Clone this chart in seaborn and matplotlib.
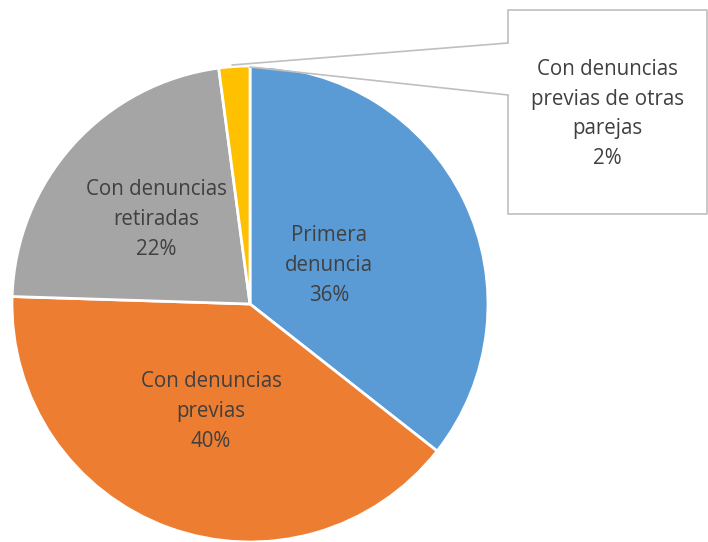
import numpy as np
import matplotlib.pyplot as plt
import seaborn as sns

# data (shares, shown rounded)
labels = ["Primera\ndenuncia", "Con denuncias\nprevias", "Con denuncias\nretiradas",
          "Con denuncias\nprevias de otras\nparejas"]
values = [35.6, 39.9, 22.4, 2.1]
colors = ["#5B9BD5", "#ED7D31", "#A5A5A5", "#FFC000"]

sns.set_theme(style="white")
plt.rcParams['font.family'] = ['Open Sans', 'DejaVu Sans']

W, H = 708, 542
fig = plt.figure(figsize=(W / 100, H / 100), dpi=100)
ax = fig.add_axes([0, 0, 1, 1])

cx, cy, r = 250, H - 304, 238
wedges, _ = ax.pie(values, colors=colors, startangle=90, counterclock=False,
                   center=(cx, cy), radius=r, frame=True,
                   wedgeprops=dict(edgecolor="white", linewidth=2))
ax.set_xlim(0, W)
ax.set_ylim(0, H)
ax.set_aspect("equal")
ax.axis("off")

txt = "#404040"
fs = 14.8
ls = 1.55
# radial distance (fraction of radius) of inside labels
label_r = [0.37, 0.48, 0.53]
for w, lab, v, f in zip(wedges[:3], labels[:3], values[:3], label_r):
    mid = np.deg2rad((w.theta1 + w.theta2) / 2)
    ax.text(cx + f * r * np.cos(mid), cy + f * r * np.sin(mid), f"{lab}\n{v:.0f}%",
            ha="center", va="center", fontsize=fs, color=txt, linespacing=ls)

# callout for the small slice
lc = "#BFBFBF"
bx0, bx1, by0, by1 = 508, 707, H - 214, H - 10
p1, p2 = H - 43, H - 95
ax.plot([bx0, bx0, bx1, bx1, bx0, bx0], [p1, by1, by1, by0, by0, p2], color=lc, lw=1.2)
ax.plot([bx0, 232], [p1, H - 65], color=lc, lw=1.2)
ax.plot([bx0, 250], [p2, H - 67], color=lc, lw=1.2)
ax.text((bx0 + bx1) / 2, H - 114, f"{labels[3]}\n{values[3]:.0f}%", ha="center", va="center",
        fontsize=fs, color=txt, linespacing=ls)

fig.savefig("out.png", dpi=100)
